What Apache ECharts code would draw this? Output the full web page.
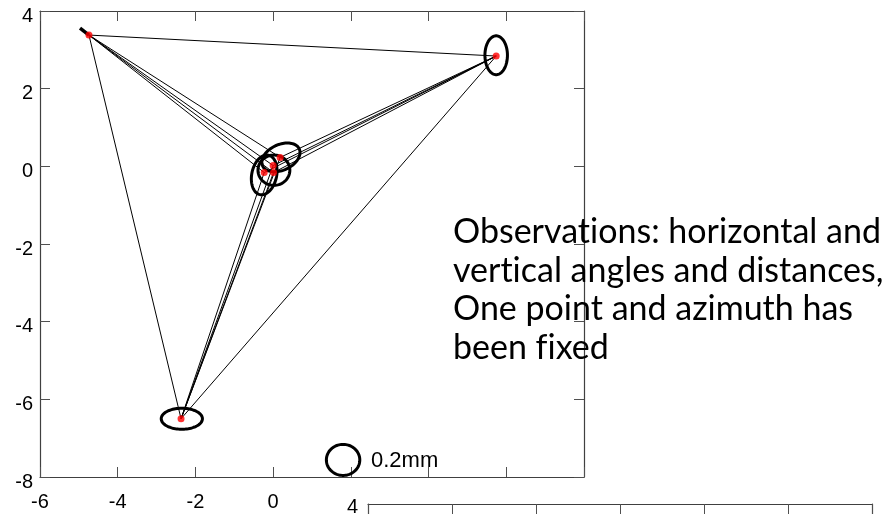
<!DOCTYPE html>
<html>
<head>
<meta charset="utf-8">
<script src="https://cdn.jsdelivr.net/npm/echarts@6/dist/echarts.min.js"></script>
<style>
html,body{margin:0;padding:0;background:#fff;}
#chart{width:896px;height:514px;}
</style>
</head>
<body>
<div id="chart"></div>
<script>
// ---- Data ----
const xTicks = [-6, -4, -2, 0, 2, 4, 6, 8];
const yTicks = [-8, -6, -4, -2, 0, 2, 4];
const pointNames = ['A', 'B', 'C', 'P0', 'P1', 'P2', 'P3'];
const pointX = [-4.74, 5.74, -2.37, 0.00, 0.18, -0.23, 0.01];
const pointY = [3.38, 2.84, -6.50, 0.02, 0.23, -0.16, -0.16];
// observation lines between points (indices into the point arrays)
const edgeFrom = [0, 0, 1, 3, 4, 5, 6, 3, 4, 5, 6, 3, 4, 5, 6];
const edgeTo   = [1, 2, 2, 0, 0, 0, 0, 1, 1, 1, 1, 2, 2, 2, 2];
// fixed azimuth segment from A
const azimuthX = [-4.74, -4.97];
const azimuthY = [3.38, 3.56];
// error ellipses: centre, semi-axis a, semi-axis b, rotation (deg)
const ellipseCx = [5.74, -2.35, 0.20, -0.23, 0.02];
const ellipseCy = [2.86, -6.50, 0.23, -0.22, -0.10];
const ellipseA  = [0.29, 0.53, 0.52, 0.52, 0.41];
const ellipseB  = [0.50, 0.27, 0.33, 0.32, 0.39];
const ellipseRot = [0, 0, 25, 78, 0];
// scale reference circle
const scaleCx = 1.80, scaleCy = -7.56, scaleA = 0.43, scaleB = 0.40;
const scaleLabel = '0.2mm';
const noteLines = ['Observations: horizontal and', 'vertical angles and distances,', 'One point and azimuth has', 'been fixed'];
// second (cut-off) panel
const panel2YMax = 4;

// ---- Build ----
const lineData = edgeFrom.map((f, i) => ({coords: [[pointX[f], pointY[f]], [pointX[edgeTo[i]], pointY[edgeTo[i]]]]}));
const azData = [{coords: [[azimuthX[0], azimuthY[0]], [azimuthX[1], azimuthY[1]]]}];
const ellData = ellipseCx.map((c, i) => [c, ellipseCy[i], ellipseA[i], ellipseB[i], ellipseRot[i]]);
ellData.push([scaleCx, scaleCy, scaleA, scaleB, 0]);
const ptData = pointX.map((x, i) => [x, pointY[i]]);
// break typographic ligatures (ti, fi) so the text looks like the original
const noteText = noteLines.join('\n').replace(/t(?=i)/g, 't\u200C').replace(/f(?=i)/g, 'f\u200C');

function renderEllipse(params, api) {
  const c = api.coord([api.value(0), api.value(1)]);
  const unit = api.size([1, 1]);
  const a = api.value(2), b = api.value(3), rot = api.value(4) * Math.PI / 180;
  const pts = [];
  for (let k = 0; k < 90; k++) {
    const t = k / 90 * Math.PI * 2;
    const ex = a * Math.cos(t), ey = b * Math.sin(t);
    const rx = ex * Math.cos(rot) - ey * Math.sin(rot);
    const ry = ex * Math.sin(rot) + ey * Math.cos(rot);
    pts.push([c[0] + rx * unit[0], c[1] - ry * unit[1]]);
  }
  return {type: 'polygon', shape: {points: pts}, style: {fill: 'none', stroke: '#000', lineWidth: 3}};
}

const axisLineStyle = {onZero: false, lineStyle: {color: '#404040', width: 1.2}};
const tickStyle = {inside: true, length: 10, lineStyle: {color: '#505050', width: 1}};
const labelFont = {fontFamily: 'Liberation Sans', fontSize: 20, color: '#000'};

const chart = echarts.init(document.getElementById('chart'), null, {renderer: 'canvas'});
chart.setOption({
  animation: false,
  backgroundColor: '#fff',
  grid: [
    {left: 40, top: 11, width: 544, height: 466, show: false},
    {left: 368, top: 504, width: 504, height: 466, show: false}
  ],
  xAxis: [
    {gridIndex: 0, type: 'value', position: 'bottom', min: xTicks[0], max: xTicks[xTicks.length - 1], interval: 2,
     axisLine: axisLineStyle, axisTick: tickStyle, splitLine: {show: false},
     axisLabel: Object.assign({margin: 15, formatter: v => (v <= 0 ? String(v) : '')}, labelFont)},
    {gridIndex: 0, type: 'value', position: 'top', min: xTicks[0], max: xTicks[xTicks.length - 1], interval: 2,
     axisLine: axisLineStyle, axisTick: tickStyle, splitLine: {show: false}, axisLabel: {show: false}},
    {gridIndex: 1, type: 'value', position: 'top', min: 0, max: 6, interval: 1,
     axisLine: axisLineStyle, axisTick: {inside: true, length: 14, lineStyle: {color: '#505050'}}, splitLine: {show: false}, axisLabel: {show: false}}
  ],
  yAxis: [
    {gridIndex: 0, type: 'value', position: 'left', min: yTicks[0], max: yTicks[yTicks.length - 1], interval: 2,
     axisLine: axisLineStyle, axisTick: tickStyle, splitLine: {show: false},
     axisLabel: Object.assign({margin: 7, verticalAlign: 'top', lineHeight: 10}, labelFont)},
    {gridIndex: 0, type: 'value', position: 'right', min: yTicks[0], max: yTicks[yTicks.length - 1], interval: 2,
     axisLine: axisLineStyle, axisTick: tickStyle, splitLine: {show: false}, axisLabel: {show: false}},
    {gridIndex: 1, type: 'value', position: 'left', min: -8, max: panel2YMax, interval: 2,
     axisLine: axisLineStyle, axisTick: {show: false}, splitLine: {show: false},
     axisLabel: Object.assign({margin: 10, verticalAlign: 'top', lineHeight: 6, formatter: v => (v === panel2YMax ? String(v) : '')}, labelFont)},
    {gridIndex: 1, type: 'value', position: 'right', min: -8, max: panel2YMax, interval: 2,
     axisLine: axisLineStyle, axisTick: {show: false}, splitLine: {show: false}, axisLabel: {show: false}}
  ],
  series: [
    {type: 'lines', coordinateSystem: 'cartesian2d', xAxisIndex: 0, yAxisIndex: 0, silent: true, z: 2,
     lineStyle: {color: '#000', width: 1, opacity: 1, curveness: 0}, data: lineData},
    {type: 'lines', coordinateSystem: 'cartesian2d', xAxisIndex: 0, yAxisIndex: 0, silent: true, z: 2,
     lineStyle: {color: '#000', width: 3.5, opacity: 1, curveness: 0}, data: azData},
    {type: 'custom', coordinateSystem: 'cartesian2d', xAxisIndex: 0, yAxisIndex: 0, silent: true, z: 3,
     renderItem: renderEllipse, data: ellData, clip: false},
    {type: 'scatter', xAxisIndex: 0, yAxisIndex: 0, silent: true, z: 4, symbol: 'circle', symbolSize: 7,
     itemStyle: {color: '#ff0000'}, data: ptData}
  ],
  graphic: [
    {type: 'text', left: 371, top: 450, z: 10,
     style: {text: scaleLabel, font: '22px "Liberation Sans"', fill: '#000'}},
    {type: 'text', left: 453, top: 213, z: 10,
     style: {text: noteText, font: '34px Lato', lineHeight: 38.5, fill: '#000'}}
  ]
});
</script>
</body>
</html>
